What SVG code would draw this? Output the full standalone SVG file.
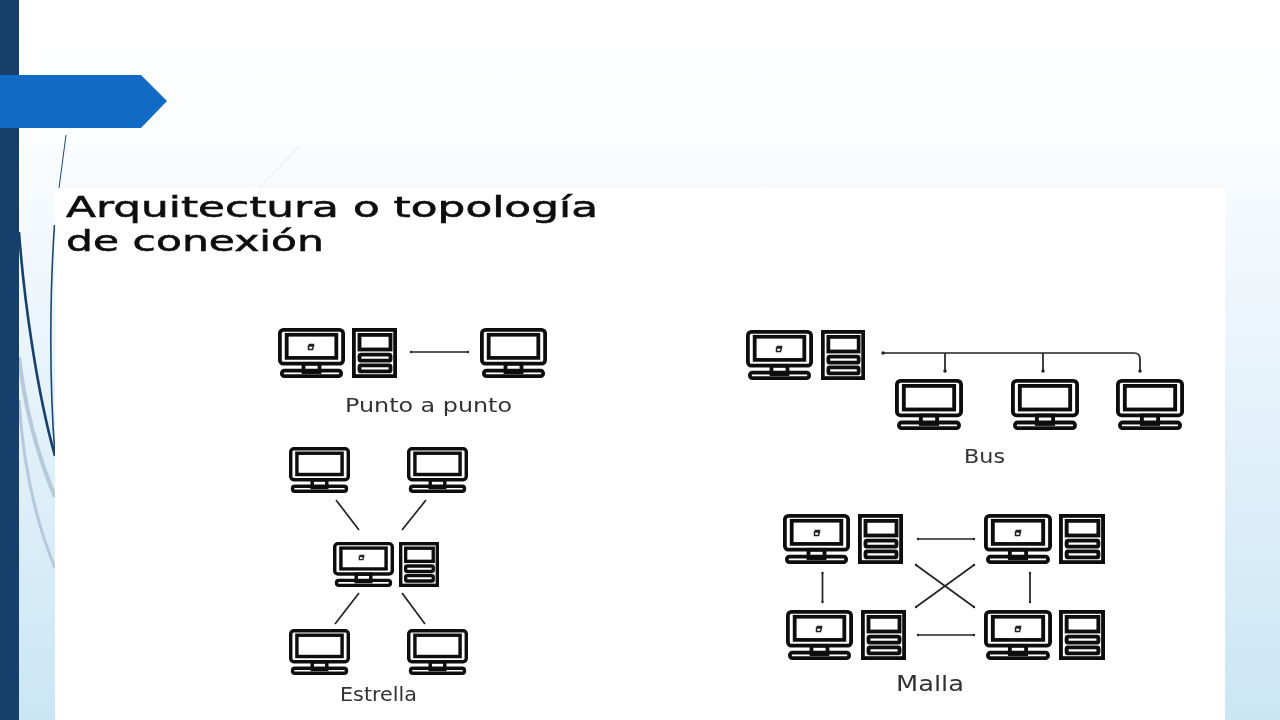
<svg xmlns="http://www.w3.org/2000/svg" width="1280" height="720" viewBox="0 0 1280 720">
<defs>
<linearGradient id="bg" x1="0" y1="0" x2="0" y2="1">
<stop offset="0" stop-color="#ffffff"/><stop offset="0.15" stop-color="#fdfeff"/><stop offset="0.4" stop-color="#eef6fc"/><stop offset="1" stop-color="#cae6f5"/>
</linearGradient>
<filter id="soft" x="-2%" y="-2%" width="104%" height="104%"><feGaussianBlur stdDeviation="0.45"/></filter>
<marker id="dot" markerWidth="5" markerHeight="5" refX="2.5" refY="2.5" markerUnits="userSpaceOnUse"><circle cx="2.5" cy="2.5" r="1.7" fill="#222"/></marker>
<marker id="tip" markerWidth="4" markerHeight="4" refX="2" refY="2" markerUnits="userSpaceOnUse"><circle cx="2" cy="2" r="1.2" fill="#222"/></marker>
<symbol id="monitor" viewBox="0 0 67 51" preserveAspectRatio="none" overflow="visible">
<rect class="ic" x="1.900" y="1.900" width="63.200" height="34.400" rx="3.500"/>
<rect class="ic" x="8.700" y="6.900" width="49.600" height="23.600"/>
<rect class="ic" x="25.500" y="36.500" width="16" height="8.500"/>
<rect class="ic" x="3.900" y="43.500" width="59.200" height="5.600" rx="2.500" fill="#fff"/>
</symbol>
<symbol id="tower" viewBox="0 0 45 50" preserveAspectRatio="none" overflow="visible">
<rect class="ic" x="1.900" y="1.900" width="41.200" height="46.200"/>
<rect class="ic" x="7.500" y="6.900" width="31" height="14.600"/>
<rect class="ic" x="7.500" y="26.700" width="31" height="6" rx="1.500"/>
<rect class="ic" x="7.500" y="37.400" width="31" height="6" rx="1.500"/>
</symbol>
<symbol id="chip" viewBox="0 0 8 8" overflow="visible"><path d="M2.500 1.500 H6.500 V3 L5.500 6.500 H1.500 V3 Z M2.500 3 H6" fill="none" stroke="#222" stroke-width="1.500"/></symbol>
</defs>
<style>
.ic{fill:none;stroke:#111;stroke-width:3.800}
.cn{fill:none;stroke:#222;stroke-width:1.700}
.title{font-family:"DejaVu Sans","Noto Sans",sans-serif;font-size:29px;fill:#111;stroke:#111;stroke-width:0.600}
.lab{font-family:"DejaVu Sans","Noto Sans",sans-serif;font-size:19px;fill:#333}
.art{filter:url(#soft)}
</style>
<rect width="1280" height="720" fill="url(#bg)"/>
<g id="decor">
<path d="M66 135 L59 188" stroke="#1b4676" stroke-width="1" fill="none"/>
<path d="M299 147 L259 188" stroke="#dfe7ee" stroke-width="1" fill="none"/>
<path d="M19 232 C24 300 37 392 55 456" stroke="#173f6c" stroke-width="2.600" fill="none"/>
<path d="M54.500 225 C50 290 49 380 55 455" stroke="#1b4676" stroke-width="1.600" fill="none"/>
<path d="M19 357 C25 410 38 456 55 497" stroke="#b5c9da" stroke-width="4" fill="none"/>
<path d="M19 400 C23 465 36 522 55 568" stroke="#b5c9da" stroke-width="3" fill="none"/>
</g>
<rect id="panel" x="55" y="188" width="1170" height="532" fill="#ffffff"/>
<rect id="bar" x="0" y="0" width="19" height="720" fill="#173f6c"/>
<path id="arrow" d="M0 75 H141 L167 101 L141 128 H0 Z" fill="#116bc4"/>
<text class="title art" x="66" y="217" textLength="532" lengthAdjust="spacingAndGlyphs">Arquitectura o topología</text>
<text class="title art" x="66" y="251" textLength="258" lengthAdjust="spacingAndGlyphs">de conexión</text>
<g id="connectors" class="art">
<path class="cn" d="M411 352 H468" marker-start="url(#tip)" marker-end="url(#tip)"/>
<path class="cn" d="M883 353 H1134 Q1140 353 1140 359 V371" marker-start="url(#dot)" marker-end="url(#dot)"/>
<path class="cn" d="M945 353 V371" marker-end="url(#dot)"/>
<path class="cn" d="M1043 353 V371" marker-end="url(#dot)"/>
<path class="cn" d="M336 500 L359 530"/>
<path class="cn" d="M426 500 L402 530"/>
<path class="cn" d="M359 593 L335 624"/>
<path class="cn" d="M402 593 L425 624"/>
<path class="cn" d="M918 539 H974" marker-start="url(#tip)" marker-end="url(#tip)"/>
<path class="cn" d="M918 635 H974" marker-start="url(#tip)" marker-end="url(#tip)"/>
<path class="cn" d="M822.500 573 V602" marker-start="url(#tip)" marker-end="url(#tip)"/>
<path class="cn" d="M1030 573 V602" marker-start="url(#tip)" marker-end="url(#tip)"/>
<path class="cn" d="M916 565 L974 607" marker-start="url(#tip)" marker-end="url(#tip)"/>
<path class="cn" d="M916 607 L974 565" marker-start="url(#tip)" marker-end="url(#tip)"/>
</g>
<g id="punto-pc" class="art"><use href="#monitor" x="278" y="328" width="67" height="50"/><use href="#chip" x="307" y="343" width="8" height="8"/><use href="#tower" x="352" y="328" width="45" height="50"/></g>
<g id="punto-monitor" class="art"><use href="#monitor" x="480" y="328" width="67" height="50"/></g>
<text class="lab art" x="345" y="412" textLength="167" lengthAdjust="spacingAndGlyphs">Punto a punto</text>
<g id="bus-pc" class="art"><use href="#monitor" x="746" y="330" width="67" height="50"/><use href="#chip" x="775" y="345" width="8" height="8"/><use href="#tower" x="821" y="330" width="44" height="50"/></g>
<g id="bus-monitor-1" class="art"><use href="#monitor" x="895" y="379" width="68" height="51"/></g>
<g id="bus-monitor-2" class="art"><use href="#monitor" x="1011" y="379" width="68" height="51"/></g>
<g id="bus-monitor-3" class="art"><use href="#monitor" x="1116" y="379" width="68" height="51"/></g>
<text class="lab art" x="964" y="463" textLength="41" lengthAdjust="spacingAndGlyphs">Bus</text>
<g id="estrella-tl" class="art"><use href="#monitor" x="289" y="447" width="61" height="46"/></g>
<g id="estrella-tr" class="art"><use href="#monitor" x="407" y="447" width="61" height="46"/></g>
<g id="estrella-center" class="art"><use href="#monitor" x="333" y="542" width="61" height="45"/><use href="#chip" x="358" y="554" width="7" height="7"/><use href="#tower" x="399" y="542" width="40" height="45"/></g>
<g id="estrella-bl" class="art"><use href="#monitor" x="289" y="629" width="61" height="46"/></g>
<g id="estrella-br" class="art"><use href="#monitor" x="407" y="629" width="61" height="46"/></g>
<text class="lab art" x="340" y="701" textLength="77" lengthAdjust="spacingAndGlyphs">Estrella</text>
<g id="malla-tl" class="art"><use href="#monitor" x="783" y="514" width="67" height="50"/><use href="#chip" x="813" y="529" width="8" height="8"/><use href="#tower" x="858" y="514" width="45" height="50"/></g>
<g id="malla-tr" class="art"><use href="#monitor" x="984" y="514" width="68" height="50"/><use href="#chip" x="1014" y="529" width="8" height="8"/><use href="#tower" x="1059" y="514" width="46" height="50"/></g>
<g id="malla-bl" class="art"><use href="#monitor" x="786" y="610" width="67" height="50"/><use href="#chip" x="815" y="625" width="8" height="8"/><use href="#tower" x="861" y="610" width="45" height="50"/></g>
<g id="malla-br" class="art"><use href="#monitor" x="984" y="610" width="68" height="50"/><use href="#chip" x="1014" y="625" width="8" height="8"/><use href="#tower" x="1059" y="610" width="46" height="50"/></g>
<text class="lab art" x="896" y="691" textLength="68" lengthAdjust="spacingAndGlyphs" style="font-size:21px">Malla</text>
</svg>
